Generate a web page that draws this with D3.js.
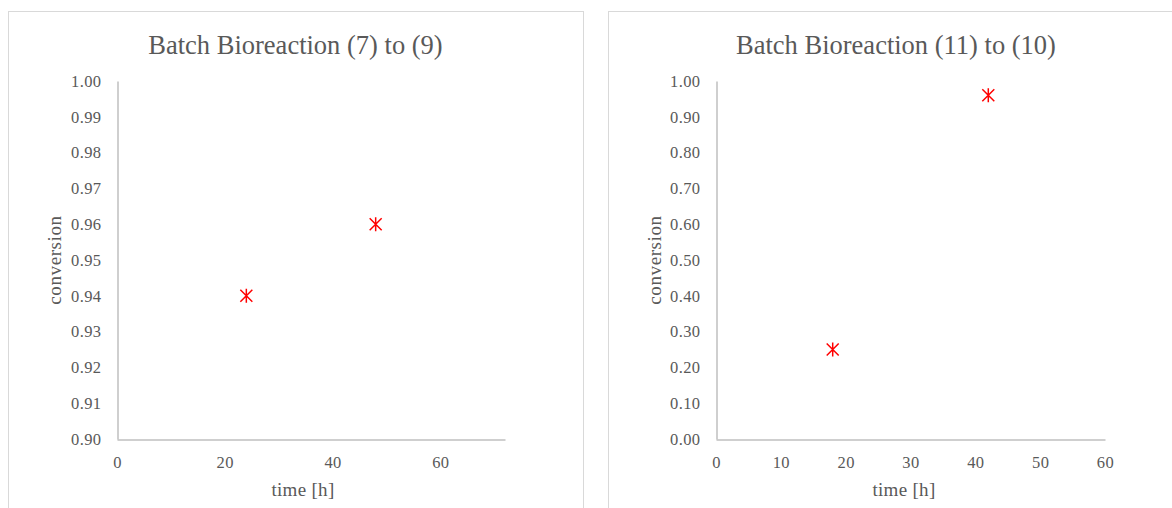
<!DOCTYPE html>
<html>
<head>
<meta charset="utf-8">
<script src="https://cdn.jsdelivr.net/npm/d3@7"></script>
<style>
  html, body { margin: 0; padding: 0; background: #fff; }
  svg { display: block; }
  text { font-family: "Liberation Serif", "DejaVu Serif", serif; fill: #595959; }
</style>
</head>
<body>
<svg id="chart" width="1172" height="508"></svg>
<script>
// ---- data ----
const titles = ["Batch Bioreaction (7) to (9)", "Batch Bioreaction (11) to (10)"];
const timeA = [24, 48];
const convA = [0.94, 0.96];
const timeB = [18, 42];
const convB = [0.25, 0.96];
const xTicksA = [0, 20, 40, 60];
const yTicksA = [0.90, 0.91, 0.92, 0.93, 0.94, 0.95, 0.96, 0.97, 0.98, 0.99, 1.00];
const xTicksB = [0, 10, 20, 30, 40, 50, 60];
const yTicksB = [0.00, 0.10, 0.20, 0.30, 0.40, 0.50, 0.60, 0.70, 0.80, 0.90, 1.00];
const xLabel = "time [h]";
const yLabel = "conversion";

const svg = d3.select("#chart");

const panels = [
  { title: titles[0], xs: timeA, ys: convA, xTicks: xTicksA, yTicks: yTicksA,
    xDomain: [0, 72], yDomain: [0.90, 1.00],
    box: [8, 11, 583, 520], plot: [117, 81, 505, 439], titleX: 295.5, yTitleX: 55, xTitleX: 303 },
  { title: titles[1], xs: timeB, ys: convB, xTicks: xTicksB, yTicks: yTicksB,
    xDomain: [0, 60], yDomain: [0, 1],
    box: [608, 11, 1190, 520], plot: [716, 81, 1105, 439], titleX: 896, yTitleX: 655, xTitleX: 904 }
];

panels.forEach(p => {
  const g = svg.append("g");
  const [bx0, by0, bx1, by1] = p.box;
  g.append("rect").attr("x", bx0 + 0.5).attr("y", by0 + 0.5)
    .attr("width", bx1 - bx0).attr("height", by1 - by0)
    .attr("fill", "#fff").attr("stroke", "#d9d9d9").attr("stroke-width", 1);

  const [px0, py0, px1, py1] = p.plot;
  const x = d3.scaleLinear().domain(p.xDomain).range([px0, px1]);
  const y = d3.scaleLinear().domain(p.yDomain).range([py1, py0]);

  g.append("text").attr("x", p.titleX).attr("y", 54)
    .attr("text-anchor", "middle").style("font-size", "26.5px").text(p.title);

  // y axis
  const yAxis = g.append("g").attr("transform", `translate(${px0 + 0.5},0)`)
    .call(d3.axisLeft(y).tickValues(p.yTicks).tickFormat(d3.format(".2f")).tickSize(0).tickPadding(16));
  yAxis.select(".domain").attr("stroke", "#bfbfbf").attr("stroke-width", 1.5);
  yAxis.selectAll("text").style("font-size", "16.5px").style("fill", "#595959")
    .style("letter-spacing", "0.4px").style("font-family", "Liberation Serif, serif");

  // x axis
  const xAxis = g.append("g").attr("transform", `translate(0,${py1 + 0.5})`)
    .call(d3.axisBottom(x).tickValues(p.xTicks).tickFormat(d3.format("d")).tickSize(0).tickPadding(17));
  xAxis.select(".domain").attr("stroke", "#bfbfbf").attr("stroke-width", 1.5);
  xAxis.selectAll("text").style("font-size", "16.5px").style("fill", "#595959")
    .style("letter-spacing", "0.4px").style("font-family", "Liberation Serif, serif");

  g.append("text").attr("x", p.xTitleX).attr("y", 496)
    .attr("text-anchor", "middle").style("font-size", "19px").style("letter-spacing", "0.3px").text(xLabel);
  g.append("text").attr("transform", `translate(${p.yTitleX + 6},${(py0 + py1) / 2}) rotate(-90)`)
    .attr("text-anchor", "middle").style("font-size", "19px").style("letter-spacing", "0.6px").text(yLabel);

  // markers: asterisk (X + vertical)
  const pts = p.xs.map((v, i) => [v, p.ys[i]]);
  const s = 6;
  g.selectAll(".mk").data(pts).enter().append("path")
    .attr("transform", d => `translate(${x(d[0])},${y(d[1])})`)
    .attr("d", `M${-s},${-s}L${s},${s}M${-s},${s}L${s},${-s}M0,${-s - 1}L0,${s + 1}`)
    .attr("stroke", "#ff0000").attr("stroke-width", 1.5).attr("fill", "none");
});
</script>
</body>
</html>
